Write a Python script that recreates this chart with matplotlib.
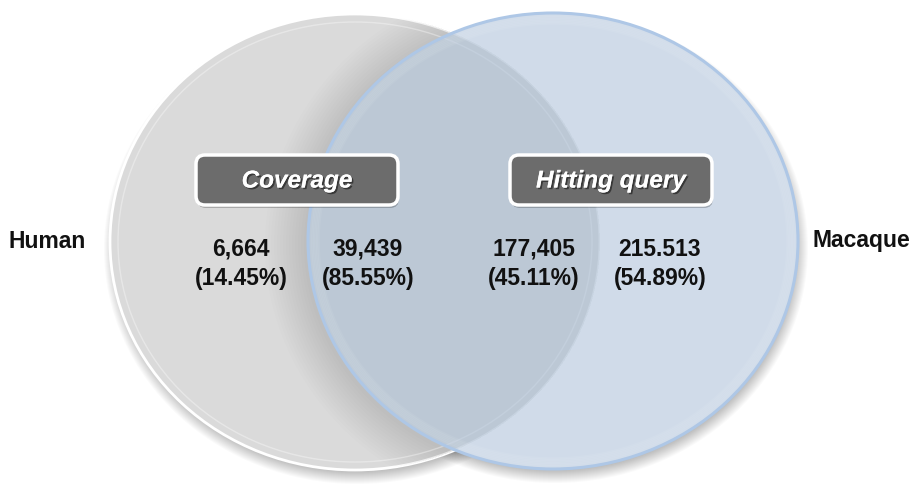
import matplotlib
matplotlib.use("Agg")
import matplotlib.pyplot as plt
from matplotlib.patches import Ellipse, FancyBboxPatch
import matplotlib.patheffects as pe

# Venn data
set_names = ["Human", "Macaque"]
box_titles = ["Coverage", "Hitting query"]
counts = ["6,664", "39,439", "177,405", "215.513"]
percents = ["(14.45%)", "(85.55%)", "(45.11%)", "(54.89%)"]

plt.rcParams['font.family'] = ['Liberation Sans', 'DejaVu Sans']

fig = plt.figure(figsize=(9.22, 4.92), dpi=100)
ax = fig.add_axes([0, 0, 1, 1])
ax.set_xlim(0, 922)
ax.set_ylim(492, 0)
ax.axis('off')

# circle geometry (pixels)
rx, ry = 245, 228
left_c = (355, 242)
right_c = (553, 241)

# soft drop shadows
for c in (left_c, right_c):
    for k in range(14):
        ax.add_patch(Ellipse((c[0] + 2, c[1] + 7), 2 * rx + 16 - 2 * k,
                             2 * ry + 14 - 2 * k, facecolor='black',
                             edgecolor='none', alpha=0.018, zorder=1))
# white base under the blue circle so the shadow does not show through
ax.add_patch(Ellipse(right_c, 2 * rx, 2 * ry, facecolor='white',
                     edgecolor='none', zorder=1.5))

# left (grey) circle
grey = Ellipse(left_c, 2 * rx, 2 * ry, facecolor='#dadada',
               edgecolor='white', linewidth=2.0, zorder=2)
ax.add_patch(grey)
# darker band inside grey near the blue circle
for k in range(14):
    d = 3 * k
    sh = Ellipse((right_c[0] - 4, right_c[1] + 4), 2 * rx + 2 * d,
                 2 * ry + 2 * d, facecolor='black', edgecolor='none',
                 alpha=0.007, zorder=3)
    sh.set_clip_path(grey)
    ax.add_patch(sh)
ax.add_patch(Ellipse(left_c, 2 * rx - 16, 2 * ry - 16, facecolor='none',
                     edgecolor='white', linewidth=1.0, alpha=0.35, zorder=3))

# right (blue) circle
ax.add_patch(Ellipse(right_c, 2 * rx, 2 * ry, facecolor='#bccde0',
                     edgecolor='none', alpha=0.70, zorder=4))
ax.add_patch(Ellipse(right_c, 2 * rx, 2 * ry, facecolor='none',
                     edgecolor='#aec7e6', linewidth=2.2, zorder=5))
for k in range(6):
    ax.add_patch(Ellipse(right_c, 2 * rx - 6 - 3 * k, 2 * ry - 6 - 3 * k,
                         facecolor='none', edgecolor='white', linewidth=2,
                         alpha=0.06, zorder=5))

# set labels
bold = dict(fontsize=16.5, fontweight='bold', color='#111111',
            ha='center', va='center', zorder=8)
ax.text(47, 241, set_names[0], **bold)
ax.text(861, 241, set_names[1], **bold)

# region counts
xs = [241, 368, 534, 660]
for x, n, p in zip(xs, counts, percents):
    ax.text(x, 249, n, **bold)
    ax.text(x, 278, p, **bold)

# title boxes
box_cx = [297, 611]
bw, bh = 196, 44
for cx, t in zip(box_cx, box_titles):
    for k in range(4):
        ax.add_patch(FancyBboxPatch((cx - bw / 2 + 1, 180 - bh / 2 + 3),
                                    bw, bh,
                                    boxstyle="round,pad=3,rounding_size=9",
                                    facecolor='black', edgecolor='none',
                                    alpha=0.06, linewidth=2 + 2 * k,
                                    zorder=6))
    ax.add_patch(FancyBboxPatch((cx - bw / 2, 180 - bh / 2), bw, bh,
                                boxstyle="round,pad=3,rounding_size=9",
                                facecolor='#6c6c6c', edgecolor='white',
                                linewidth=2.5, zorder=7))
    txt = ax.text(cx, 181, t, fontsize=17.5, fontweight='bold',
                  style='italic', color='white', ha='center', va='center',
                  zorder=8)
    txt.set_path_effects([pe.withSimplePatchShadow(offset=(1.2, -1.2),
                                                   shadow_rgbFace='#222222',
                                                   alpha=0.7),
                          pe.Normal()])

fig.savefig("out.png", dpi=100)
